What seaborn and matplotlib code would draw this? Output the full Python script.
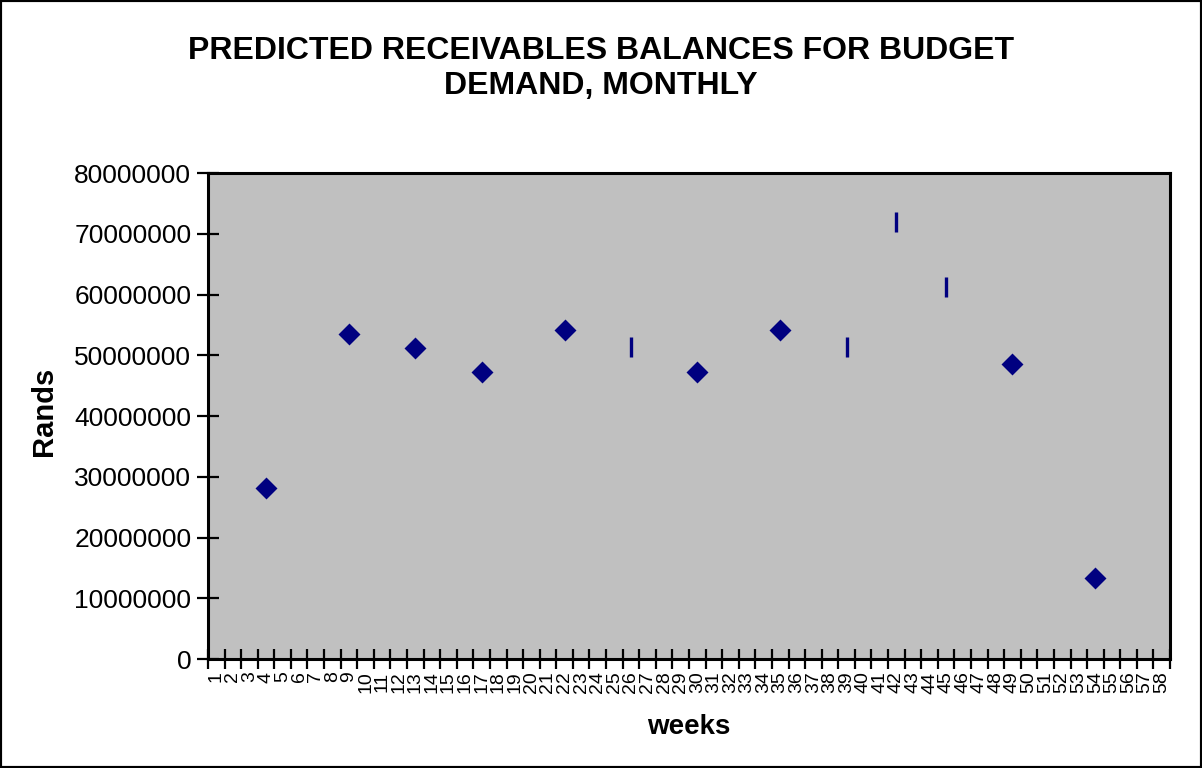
import matplotlib
matplotlib.use("Agg")
import matplotlib.pyplot as plt
from matplotlib.patches import Rectangle
import seaborn as sns
import pandas as pd

# Weekly predicted receivables balances (Rands)
diamond_weeks = [4, 9, 13, 17, 22, 30, 35, 49, 54]
diamond_values = [28100000, 53500000, 51200000, 47200000, 54200000,
                  47200000, 54200000, 48600000, 13300000]
dash_weeks = [26, 39, 42, 45]
dash_values = [51400000, 51400000, 71900000, 61200000]

week_labels = [str(w) for w in range(1, 59)]
y_ticks = list(range(0, 80000001, 10000000))

sns.set_theme(style="white")
plt.rcParams["font.family"] = ["Liberation Sans", "DejaVu Sans"]
plt.rcParams["text.color"] = "black"
plt.rcParams["axes.labelcolor"] = "black"
plt.rcParams["xtick.color"] = "black"
plt.rcParams["ytick.color"] = "black"

df_d = pd.DataFrame({"week": diamond_weeks, "rands": diamond_values})
df_b = pd.DataFrame({"week": dash_weeks, "rands": dash_values})

fig = plt.figure(figsize=(12.02, 7.68), dpi=100)
ax = fig.add_axes([0.173, 0.1419, 0.8004, 0.6328])
ax.set_facecolor("#C0C0C0")

navy = "#000080"
sns.scatterplot(data=df_d, x="week", y="rands", marker="D", s=125,
                color=navy, edgecolor=navy, linewidth=0, ax=ax, zorder=3)
sns.scatterplot(data=df_b, x="week", y="rands", marker="|", s=200,
                color=navy, linewidth=2.4, ax=ax, zorder=3)

ax.set_xlim(0.5, len(week_labels) + 0.5)
ax.set_ylim(0, 80000000)

# category boundaries carry the tick marks, labels sit at category centres
ax.set_xticks([i + 0.5 for i in range(0, len(week_labels) + 1)])
ax.set_xticklabels([])
ax.set_xticks(range(1, len(week_labels) + 1), minor=True)
ax.set_xticklabels(week_labels, minor=True, rotation=90, fontsize=14)
ax.tick_params(axis="x", which="major", direction="inout", length=14,
               width=1.6, color="black", bottom=True)
ax.tick_params(axis="x", which="minor", length=0, pad=9, colors="black")

ax.set_yticks(y_ticks)
ax.set_yticklabels([str(v) for v in y_ticks], fontsize=19)
ax.tick_params(axis="y", direction="inout", length=16, width=1.6,
               color="black", left=True, pad=4)

for side in ax.spines.values():
    side.set_visible(True)
    side.set_color("black")
    side.set_linewidth(2.2)

ax.set_xlabel("weeks", fontsize=20, fontweight="bold")
ax.xaxis.label.set_va("center")
ax.xaxis.set_label_coords(0.5, -0.140)
ax.set_ylabel("Rands", fontsize=21, fontweight="bold")
ax.yaxis.label.set_va("center")
ax.yaxis.set_label_coords(-0.1705, 0.51)

fig.text(0.5, 0.911, "PREDICTED RECEIVABLES BALANCES FOR BUDGET\nDEMAND, MONTHLY",
         ha="center", va="center", fontsize=23, fontweight="bold",
         linespacing=1.2)

fig.patches.append(Rectangle((0, 0), 1, 1, transform=fig.transFigure,
                             fill=False, edgecolor="black", linewidth=3))

fig.savefig("out.png", dpi=100)
